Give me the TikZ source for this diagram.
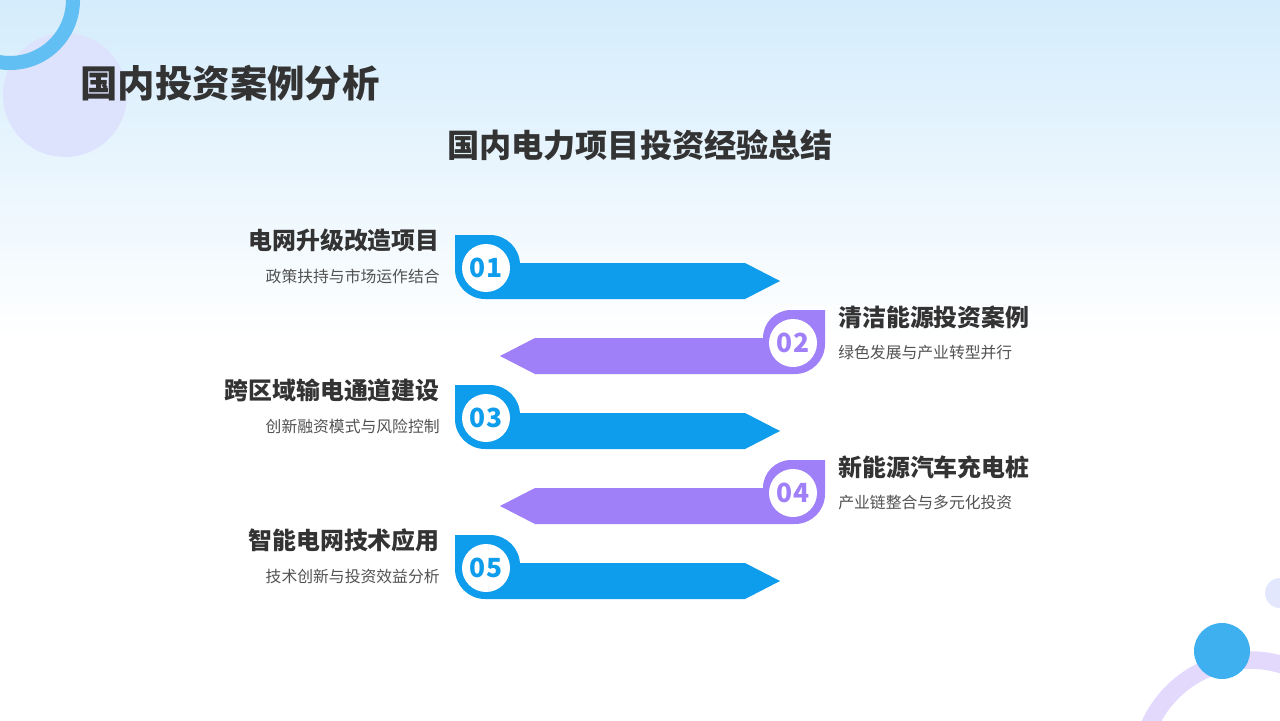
\documentclass[tikz,border=0pt]{standalone}
\usepackage{fontspec}
\setmainfont{Noto Sans CJK SC}
\definecolor{skyblue}{RGB}{14,156,236}
\definecolor{violet}{RGB}{160,128,248}
\definecolor{lavender}{RGB}{214,220,252}
\definecolor{bgblue}{RGB}{212,236,252}
\definecolor{textdark}{RGB}{51,51,51}

\tikzset{
  headtext/.style={font=\bfseries\fontsize{13.6}{16}\selectfont,text=textdark,inner sep=0pt},
  subtext/.style={font=\fontsize{9}{11}\selectfont,text=textdark!85,inner sep=0pt},
  numtext/.style={circle,fill=white,minimum size=0.96cm,inner sep=0pt,font=\bfseries\fontsize{15}{18}\selectfont}
}

\begin{document}
\begin{tikzpicture}[x=0.02cm,y=-0.02cm]
    % === Background ===
    \useasboundingbox (0,0) rectangle (1280,720);
    \fill[top color=bgblue,bottom color=white] (0,0) rectangle (1280,340);
    \fill[white] (0,340) rectangle (1280,720);
    \begin{scope}
      \clip (0,0) rectangle (1280,720);
      \fill[lavender!80] (65,95) circle (62);
      \draw[skyblue!65,line width=8] (10,0) circle (63);
      \fill[lavender!70] (1280,593) circle (15);
      \draw[violet!30,line width=10] (1250,770) circle (110);
      \fill[skyblue!80] (1222,651) circle (28);
    \end{scope}

    % === Titles ===
    \node[anchor=west,font=\bfseries\fontsize{21.3}{26}\selectfont,text=textdark,inner sep=0pt] (title) at (80,83) {国内投资案例分析};
    \node[font=\bfseries\fontsize{18.3}{22}\selectfont,text=textdark,inner sep=0pt] (subtitle) at (640,145) {国内电力项目投资经验总结};

    % === Left arrows (01, 03, 05) ===
    \foreach \n/\dy/\head/\sub in {01/0/电网升级改造项目/政策扶持与市场运作结合,
                                   03/150/跨区域输电通道建设/创新融资模式与风险控制,
                                   05/300/智能电网技术应用/技术创新与投资效益分析}{
      \fill[skyblue] (455,235+\dy) -- (490,235+\dy) arc (-90:0:30) -- (520,263+\dy) -- (745,263+\dy)
        -- (780,281+\dy) -- (745,299+\dy) -- (485,299+\dy) arc (90:180:30) -- cycle;
      \node[numtext,text=skyblue] (num\n) at (486,268+\dy) {\n};
      \node[headtext,anchor=east] (head\n) at (440,240+\dy) {\head};
      \node[subtext,anchor=east] (sub\n) at (440,276+\dy) {\sub};
    }

    % === Right arrows (02, 04) ===
    \foreach \n/\dy/\head/\sub in {02/0/清洁能源投资案例/绿色发展与产业转型并行,
                                   04/150/新能源汽车充电桩/产业链整合与多元化投资}{
      \fill[violet] (825,310+\dy) -- (825,344+\dy) arc (0:90:30) -- (535,374+\dy)
        -- (500,356+\dy) -- (535,338+\dy) -- (763,338+\dy) arc (180:270:28) -- cycle;
      \node[numtext,text=violet] (num\n) at (793,343+\dy) {\n};
      \node[headtext,anchor=west] (head\n) at (838,317+\dy) {\head};
      \node[subtext,anchor=west] (sub\n) at (838,353+\dy) {\sub};
    }
\end{tikzpicture}
\end{document}
